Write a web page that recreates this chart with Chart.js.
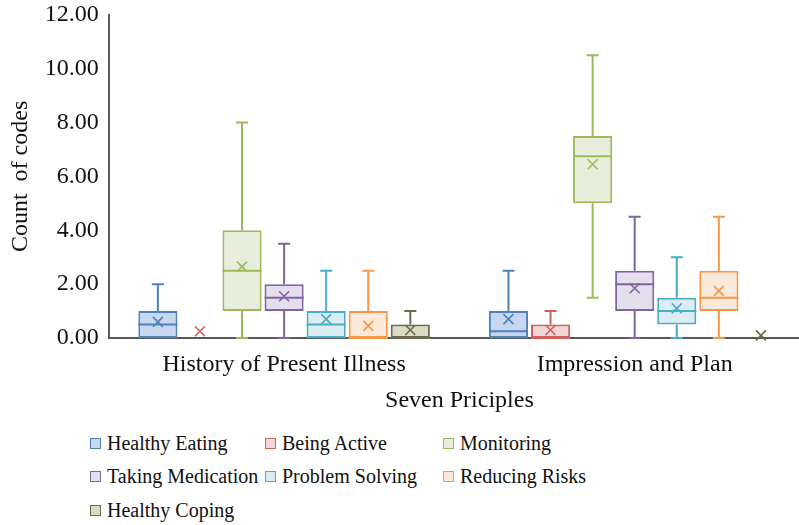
<!DOCTYPE html>
<html>
<head>
<meta charset="utf-8">
<script src="https://cdn.jsdelivr.net/npm/chart.js@4/dist/chart.umd.min.js"></script>
<style>
  body { margin: 0; overflow: hidden; background: #fff; width: 799px; height: 525px; }
  #wrap { position: relative; width: 810px; height: 415px; }
  #legend {
    position: absolute; left: 90px; top: 430px;
    display: grid; grid-template-columns: 175px 178px 200px; row-gap: 7.5px;
    font-family: "Liberation Serif", serif; font-size: 20px; color: #111;
  }
  #legend div { display: flex; align-items: center; height: 26px; white-space: nowrap; }
  #legend span.box { display: inline-block; box-sizing: border-box; width: 11px; height: 11px; border: 1.5px solid; margin-right: 6px; }
</style>
</head>
<body>
<div id="wrap"><canvas id="boxChart" width="810" height="415"></canvas></div>
<div id="legend"></div>
<script>
const categories = ["History of Present Illness", "Impression and Plan"];
const seriesNames = ["Healthy Eating", "Being Active", "Monitoring", "Taking Medication", "Problem Solving", "Reducing Risks", "Healthy Coping"];
const lineColors = ["#4f81bd", "#d0605c", "#9bbb59", "#8064a2", "#4bacc6", "#f79646", "#6b6952"];
const fillColors = ["#c6d7ef", "#f1d8d8", "#e8eedb", "#e4dfec", "#daedf3", "#fde9d9", "#ddd9c3"];

// per series: [History of Present Illness, Impression and Plan]
const minVals  = [[0, 0], [0, 0], [0, 1.5], [0, 0], [0, 0], [0, 0], [0, 0]];
const q1Vals   = [[0, 0], [0, 0], [1, 5], [1, 1], [0, 0.5], [0, 1], [0, 0]];
const medVals  = [[0.5, 0.25], [0, 0], [2.5, 6.75], [1.5, 2], [0.5, 1], [0, 1.5], [0, 0]];
const q3Vals   = [[1, 1], [0, 0.5], [4, 7.5], [2, 2.5], [1, 1.5], [1, 2.5], [0.5, 0]];
const maxVals  = [[2, 2.5], [0, 1], [8, 10.5], [3.5, 4.5], [2.5, 3], [2.5, 4.5], [1, 0]];
const meanVals = [[0.6, 0.7], [0.25, 0.3], [2.65, 6.45], [1.55, 1.85], [0.7, 1.1], [0.45, 1.75], [0.3, 0.1]];

const datasets = seriesNames.map((name, s) => ({
  label: name,
  data: categories.map((c, i) => [q1Vals[s][i], q3Vals[s][i]]),
  backgroundColor: fillColors[s],
  borderColor: lineColors[s],
  borderWidth: 2,
  borderSkipped: false
}));

// whiskers, medians and means, placed through the chart's scales
const boxExtras = {
  id: "boxExtras",
  afterDatasetsDraw(chart) {
    const ctx = chart.ctx, y = chart.scales.y;
    chart.data.datasets.forEach((ds, s) => {
      chart.getDatasetMeta(s).data.forEach((bar, i) => {
        const x = bar.x, half = bar.width / 2;
        const yMin = y.getPixelForValue(minVals[s][i]);
        const yQ1 = y.getPixelForValue(q1Vals[s][i]);
        const yMed = y.getPixelForValue(medVals[s][i]);
        const yQ3 = y.getPixelForValue(q3Vals[s][i]);
        const yMax = y.getPixelForValue(maxVals[s][i]);
        const yMean = y.getPixelForValue(meanVals[s][i]);
        ctx.save();
        ctx.strokeStyle = lineColors[s];
        ctx.lineWidth = 2;
        ctx.beginPath();
        if (maxVals[s][i] > q3Vals[s][i]) {
          ctx.moveTo(x, yQ3); ctx.lineTo(x, yMax);
          ctx.moveTo(x - 6, yMax); ctx.lineTo(x + 6, yMax);
        }
        if (minVals[s][i] < q1Vals[s][i]) {
          ctx.moveTo(x, yQ1); ctx.lineTo(x, yMin);
          ctx.moveTo(x - 6, yMin); ctx.lineTo(x + 6, yMin);
        }
        if (q3Vals[s][i] > q1Vals[s][i]) {
          ctx.moveTo(x - half, yMed); ctx.lineTo(x + half, yMed);
        }
        ctx.stroke();
        ctx.lineWidth = 1.6;
        ctx.beginPath();
        ctx.moveTo(x - 5, yMean - 5); ctx.lineTo(x + 5, yMean + 5);
        ctx.moveTo(x + 5, yMean - 5); ctx.lineTo(x - 5, yMean + 5);
        ctx.stroke();
        ctx.restore();
      });
    });
  }
};

const serif = "'Liberation Serif', 'Times New Roman', serif";

new Chart(document.getElementById("boxChart"), {
  type: "bar",
  data: { labels: categories, datasets },
  options: {
    responsive: false,
    animation: false,
    categoryPercentage: 0.84,
    barPercentage: 0.93,
    layout: { padding: { top: 0, left: 6, right: 0, bottom: 4 } },
    plugins: { legend: { display: false }, tooltip: { enabled: false } },
    scales: {
      x: {
        z: 1,
        grid: { display: false, drawTicks: false },
        border: { color: "#595959", width: 2 },
        ticks: { color: "#111", font: { family: serif, size: 24 }, padding: 12 },
        title: { display: true, text: "Seven Priciples", color: "#111", font: { family: serif, size: 24, lineHeight: 0.84 }, padding: 0 }
      },
      y: {
        z: 1,
        min: 0, max: 12,
        grid: { display: false, drawTicks: false },
        border: { color: "#595959", width: 2 },
        ticks: { stepSize: 2, color: "#111", font: { family: serif, size: 24, lineHeight: 0.4 }, padding: 10, callback: v => v.toFixed(2) },
        title: { display: true, text: "Count  of codes", color: "#111", font: { family: serif, size: 24 }, padding: 0 }
      }
    }
  },
  plugins: [boxExtras]
});

const legend = document.getElementById("legend");
seriesNames.forEach((name, s) => {
  const item = document.createElement("div");
  const box = document.createElement("span");
  box.className = "box";
  box.style.background = fillColors[s];
  box.style.borderColor = lineColors[s];
  item.appendChild(box);
  item.appendChild(document.createTextNode(name));
  legend.appendChild(item);
});
</script>
</body>
</html>
